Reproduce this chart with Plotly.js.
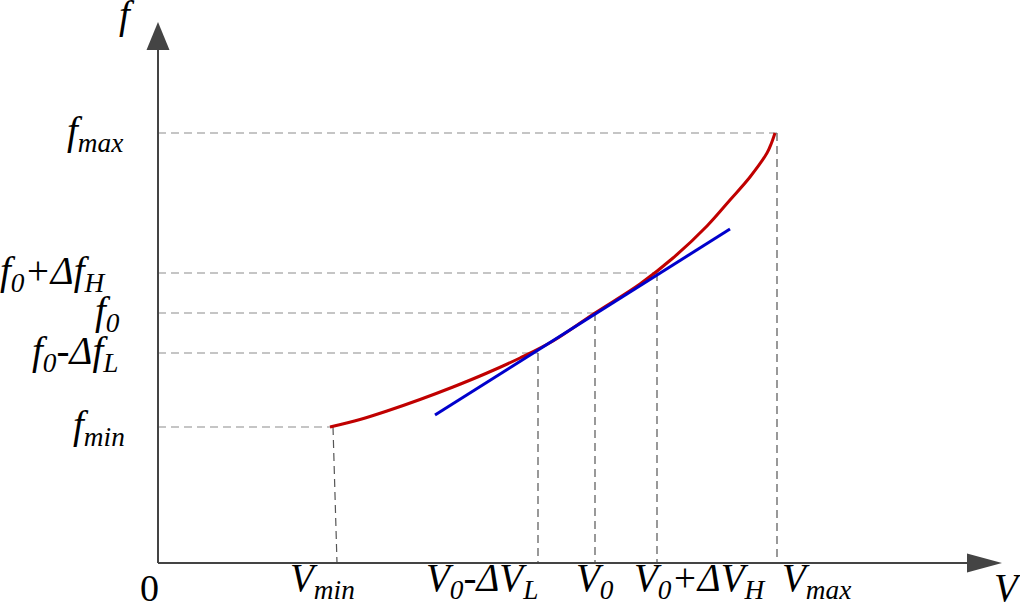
<!DOCTYPE html>
<html><head><meta charset="utf-8">
<script src="https://cdn.plot.ly/plotly-3.0.1.min.js"></script>
<style>html,body{margin:0;padding:0;background:#fff;}#chart{width:1020px;height:604px;}</style>
</head><body><div id="chart"></div>
<script>
// Values (V measured from origin, f measured from origin)
const vNames = ['V<sub>min</sub>', 'V<sub>0</sub>-ΔV<sub>L</sub>', 'V<sub>0</sub>', 'V<sub>0</sub>+ΔV<sub>H</sub>', 'V<sub>max</sub>'];
const vValues = [175, 380, 437, 499, 619];
const vFoot = [179, 380, 437, 499, 619];
const fNames = ['f<sub>min</sub>', 'f<sub>0</sub>-Δf<sub>L</sub>', 'f<sub>0</sub>', 'f<sub>0</sub>+Δf<sub>H</sub>', 'f<sub>max</sub>'];
const fValues = [136, 210, 250, 290, 430];
// characteristic curve f(V)
const curveV = [172, 202, 229, 262, 295, 329, 362, 395, 437, 482, 515, 549, 572, 592, 609, 613.5, 617];
const curveF = [136, 143.5, 152, 163.5, 176, 190, 205, 222, 250, 279, 305, 337, 363, 386, 410, 420, 430];
// tangent line at V0
const tanV = [277, 572];
const tanF = [148, 334];
// axis ends
const xAxisEnd = 844;
const yAxisEnd = 541;
// label positions
const vLabelX = [164, 324, 437, 542, 658];
const fLabelX = [-31, -38, -36, -50, -33];
const fLabelY = [136, 210, 250, 290, 430];

const FONT = 'Liberation Serif';
const AXIS = '#444444';
const traces = [];
for (let i = 0; i < vValues.length; i++) {
  traces.push({x: [0, vValues[i]], y: [fValues[i], fValues[i]], mode: 'lines',
    line: {color: '#8c8c8c', width: 1.2, dash: '8px,5px'}, hoverinfo: 'skip'});
  traces.push({x: [vValues[i], vFoot[i]], y: [fValues[i], 0], mode: 'lines',
    line: {color: '#555555', width: 1.2, dash: '8px,5px'}, hoverinfo: 'skip'});
}
// axes
traces.push({x: [0, xAxisEnd - 30], y: [0, 0], mode: 'lines', line: {color: AXIS, width: 2}, hoverinfo: 'skip'});
traces.push({x: [0, 0], y: [0, yAxisEnd - 25], mode: 'lines', line: {color: AXIS, width: 2}, hoverinfo: 'skip'});
traces.push({x: curveV, y: curveF, mode: 'lines', line: {color: '#c00000', width: 3, shape: 'spline', smoothing: 1}, hoverinfo: 'skip'});
traces.push({x: tanV, y: tanF, mode: 'lines', line: {color: '#0000cc', width: 3}, hoverinfo: 'skip'});

// arrowheads
const xL = 35, xW = 9.5, yL = 28, yW = 11.5;
const shapes = [
  {type: 'path', xref: 'x', yref: 'y', path: `M ${xAxisEnd - xL} ${-xW} L ${xAxisEnd} 0 L ${xAxisEnd - xL} ${xW} Z`,
    fillcolor: AXIS, line: {width: 0}},
  {type: 'path', xref: 'x', yref: 'y', path: `M ${-yW} ${yAxisEnd - yL} L 0 ${yAxisEnd} L ${yW} ${yAxisEnd - yL} Z`,
    fillcolor: AXIS, line: {width: 0}}
];

const annotations = [];
const txt = (x, y, t, xa, ya, size) => ({x: x, y: y, xref: 'x', yref: 'y', text: t, showarrow: false,
  xanchor: xa, yanchor: ya, font: {family: FONT, size: size || 39, color: '#000'}});
for (let i = 0; i < vNames.length; i++) {
  annotations.push(txt(vLabelX[i], -17, '<i>' + vNames[i] + '</i>', 'center', 'middle'));
  annotations.push(txt(fLabelX[i], fLabelY[i], '<i>' + fNames[i] + '</i>', 'right', 'middle'));
}
annotations.push(txt(-9, -25, '0', 'center', 'middle', 38));
annotations.push(txt(-31, 548, '<i>f</i>', 'center', 'middle'));
annotations.push(txt(850, -24, '<i>V</i>', 'center', 'middle'));

const layout = {
  width: 1020, height: 604,
  margin: {l: 0, r: 0, t: 0, b: 0},
  paper_bgcolor: '#ffffff', plot_bgcolor: '#ffffff',
  showlegend: false,
  font: {family: FONT},
  xaxis: {range: [-158, 862], visible: false, fixedrange: true},
  yaxis: {range: [-41, 563], visible: false, fixedrange: true},
  shapes: shapes,
  annotations: annotations
};
Plotly.newPlot('chart', traces, layout, {displayModeBar: false, staticPlot: true});
</script></body></html>
